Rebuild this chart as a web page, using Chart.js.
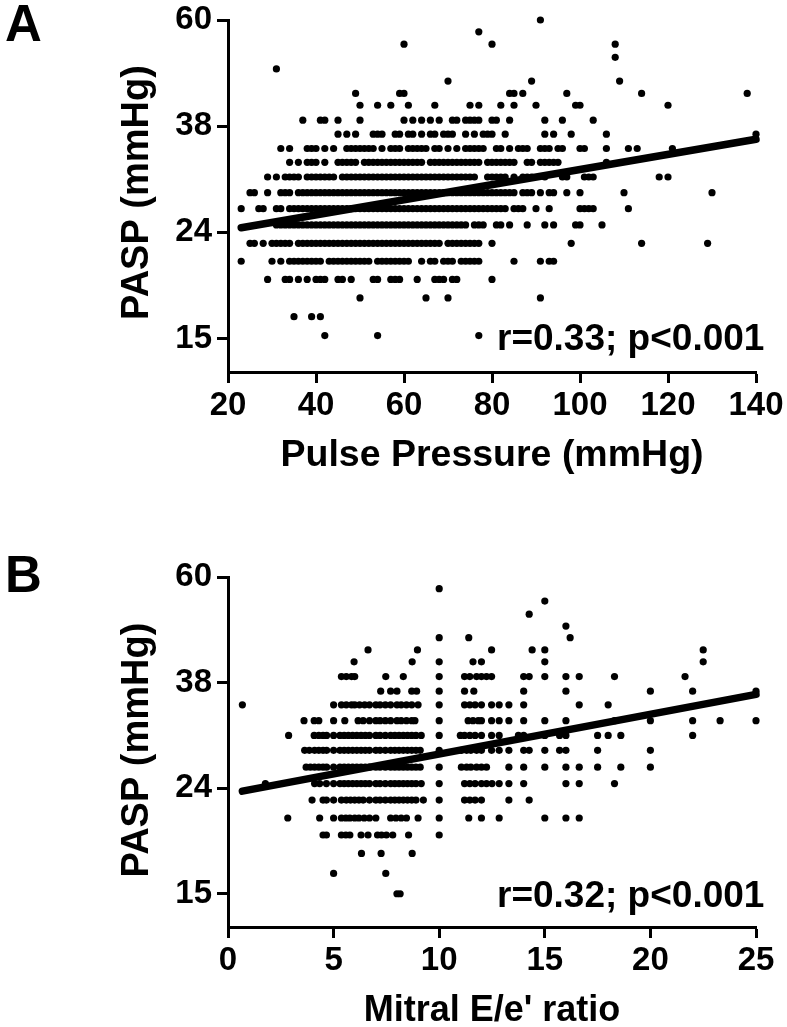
<!DOCTYPE html>
<html><head><meta charset="utf-8">
<script src="https://cdn.jsdelivr.net/npm/chart.js@4"></script>
<style>html,body{margin:0;padding:0;background:#fff}canvas{position:absolute;left:0}</style>
</head><body>
<canvas id="a" width="787" height="500" style="top:0"></canvas>
<canvas id="b" width="787" height="527" style="top:500px"></canvas>
<script>
const yTickValues=[15,23.81,37.8,60];
const paspLevelsA=[60,57,54,51,48.5,46,43.6,41.4,38.8,36.5,34.3,32.3,30.3,28.3,26.4,24.6,22.7,21,19.4,17.9,16.5,15.2];
const pulseRows=[
[91],
[77],
[60,80,108],
[108],
[31],
[70,89,109],
[49,59,60,84,85,87,97,114,138],
[50,54,57,61,67,75,77,82,85,90,99,100,120],
[37,41,42,45,50,60,62,64,66,68,71,72,74,75,76,77,80,81,84,92,96,103],
[45,47,49,53,54,55,58,59,61,62,64,66,67,69,70,71,74,76,78,79,80,83,92,94,98,106,140],
[32,34,38,39,40,42,44,47,48,49,50,51,52,53,55,57,58,59,61,62,63,64,65,67,68,70,72,74,75,76,77,78,81,82,84,86,87,88,91,92,93,95,96,100,101,106,111,113,121],
[34,36,38,39,40,42,45,46,47,48,49,51,52,53,54,55,56,57,58,59,60,61,62,63,64,66,67,68,69,70,71,72,73,74,75,76,77,79,80,81,82,83,84,85,88,89,91,92,93,94,95,106],
[29,31,33,34,35,36,38,39,40,41,42,43,44,46,47,48,49,50,51,52,53,54,55,56,57,58,59,60,61,62,63,64,65,66,67,68,69,70,71,72,73,74,75,76,79,80,81,82,83,85,87,88,89,92,96,97,101,102,103,118,120],
[25,26,29,32,33,34,36,37,38,39,40,41,42,43,44,45,46,47,48,49,50,51,52,53,54,55,56,57,58,59,60,61,62,63,64,65,66,67,68,69,70,71,72,73,74,75,76,77,78,79,80,81,82,83,84,85,87,88,89,91,93,94,97,100,110,130],
[23,27,28,31,32,34,35,36,37,38,39,40,41,42,43,44,45,46,47,48,49,50,51,52,53,54,55,56,57,58,59,60,61,62,63,64,65,66,67,68,69,70,71,72,73,74,75,76,77,78,79,80,81,82,83,85,86,87,90,93,100,101,102,103,111],
[31,32,33,34,35,36,37,38,39,40,41,42,43,44,45,46,47,48,49,50,51,52,53,54,55,56,57,58,59,60,61,62,63,64,65,66,67,68,69,70,71,72,73,74,76,77,78,81,82,84,88,92,94,99,100,105],
[25,26,28,30,31,32,33,34,36,37,38,39,40,41,42,43,44,45,46,47,48,49,50,51,52,53,54,55,56,57,58,59,60,61,62,63,64,65,66,67,68,70,71,72,73,74,75,76,77,80,98,114,129],
[23,30,32,34,35,36,37,38,39,40,41,43,44,45,46,47,48,49,50,51,52,54,55,56,57,58,59,60,61,64,66,67,69,70,71,73,74,75,76,77,85,91,93,94],
[29,33,34,36,38,40,41,42,45,46,48,53,54,57,58,59,63,67,68,69,71,72,80],
[50,65,70,91],
[35,39,41],
[42,54,77]
];
const fitLineAx=[23,140];
const fitLineAy=[24.3,35.7];

const paspLevelsB=[57,54,51,48.4,46,43.6,41.4,38.8,36.4,34.3,32,30,28.1,26.1,24.3,22.6,20.9,19.4,17.9,16.4,15];
const ratioRows=[
[10],
[15],
[14.26],
[16],
[10,11.4,16.2],
[6.63,8.97,12.48,14.4,15,22.5],
[5.97,8.72,10,11.6,12,15,22.5],
[5.37,5.6,5.85,6,7.47,8.3,10,11.2,11.45,11.77,12,12.24,12.48,14,14.26,15,16,16.63,18.3,21.64],
[7.23,7.7,8,8.7,8.93,10,11.2,11.64,14,16,20,22,25],
[0.68,5,5.37,5.6,5.85,6,6.23,6.47,6.7,7,7.2,7.45,7.7,8,8.2,8.45,8.7,9,10,11.2,11.45,11.7,12,12.48,12.84,13.3,14,16.63,18],
[3.6,4.08,4.3,5,5.53,6.16,6.4,6.7,7,7.2,7.45,7.7,8,8.2,8.45,8.7,8.85,10,11.37,11.6,11.85,12,12.48,12.84,13.3,14,15,16,18.3,20,22,23.3,25],
[2.87,4.08,4.3,4.5,4.67,5,5.3,5.5,5.7,5.9,6.1,6.3,6.5,6.7,7,7.2,7.45,7.7,7.9,8.1,8.3,8.5,8.7,8.9,9.15,10,11,11.2,11.45,11.7,12,12.48,12.84,13.75,14,15,15.7,16,17.5,18,18.6,22],
[3.63,3.85,4.1,4.3,4.5,4.67,5,5.3,5.5,5.7,5.9,6.1,6.3,6.5,6.7,7,7.2,7.45,7.7,7.9,8.1,8.3,8.5,8.7,8.9,9.1,10,11.05,11.3,11.5,11.77,12,12.48,12.84,13.3,14,14.26,15,15.7,16,17.5,20],
[3.7,3.9,4.1,4.3,4.5,4.67,5,5.3,5.5,5.7,5.9,6.1,6.3,6.5,6.7,7,7.2,7.45,7.7,7.9,8.1,8.3,8.5,8.7,8.9,9.1,10,11.05,11.3,11.5,11.77,12,12.24,13.3,14,15,16,16.63,17.5,18.6,20],
[1.77,4.1,4.34,4.66,5,5.3,5.5,5.7,5.9,6.1,6.3,6.5,6.7,7,7.2,7.45,7.7,7.9,8.1,8.3,8.5,8.7,8.9,9.15,10,11.2,11.45,11.7,12,12.24,12.5,12.84,13.3,14,16,16.63,18.3],
[3.98,4.5,4.66,5,5.37,5.6,5.8,6,6.2,6.4,6.7,7,7.2,7.45,7.7,7.9,8.1,8.3,8.5,8.7,8.9,9.25,10,11.2,11.45,11.7,12,13.3,14.26],
[2.83,4.34,5,5.37,5.58,5.77,6,6.2,6.45,6.7,7,7.7,7.95,8.2,8.45,9,10,11.4,12,12.84,15,16,16.63],
[4.5,4.66,5.37,5.58,5.77,6.3,6.63,7.08,7.27,7.5,7.8,8.55,10],
[6.32,7.25,8.72],
[5,7.47],
[8,8.15]
];
const fitLineBx=[0.68,25];
const fitLineBy=[23.5,35.9];

const F='"Liberation Sans", Arial, sans-serif';
const pts=(rows,levels)=>rows.flatMap((r,i)=>r.map(x=>({x,y:levels[i]})));
const linePts=(xs,ys)=>xs.map((x,i)=>({x,y:ys[i]}));

function make(id,cfg){
  new Chart(document.getElementById(id),{
    type:'scatter',
    data:{datasets:[
      {data:linePts(cfg.lx,cfg.ly),showLine:true,borderColor:'#000',borderWidth:7.5,borderCapStyle:'round',pointRadius:0,order:0,clip:false},
      {data:pts(cfg.rows,cfg.levels),backgroundColor:'#000',borderWidth:0,pointRadius:3.6,order:1,clip:false}
    ]},
    options:{
      responsive:false,animation:false,
      layout:{padding:{left:0,right:31,top:cfg.top,bottom:0}},
      plugins:{legend:{display:false},tooltip:{enabled:false}},
      scales:{
        x:{type:'linear',min:cfg.xmin,max:cfg.xmax,
          afterFit(s){s.height=cfg.xh;},
          grid:{drawOnChartArea:false,drawTicks:true,tickLength:11,tickWidth:3,tickColor:'#000'},
          border:{display:true,width:3,color:'#000'},
          ticks:{stepSize:cfg.step,color:'#000',autoSkip:false,maxRotation:0,padding:3,font:{family:F,weight:'bold',size:33}},
          title:{display:true,text:cfg.xtitle,color:'#000',font:{family:F,weight:'bold',size:cfg.xts},padding:{top:0,bottom:cfg.xtp}}
        },
        y:{type:'logarithmic',min:12.97,max:60,
          afterBuildTicks(s){s.ticks=yTickValues.map(v=>({value:v}));},
          afterFit(s){s.width=228;},
          grid:{drawOnChartArea:false,drawTicks:true,tickLength:11,tickWidth:3,tickColor:'#000'},
          border:{display:true,width:3,color:'#000'},
          ticks:{color:'#000',autoSkip:false,padding:5,callback:v=>String(Math.round(v)),font:{family:F,weight:'bold',size:33,lineHeight:0.9}}
        }
      }
    },
    plugins:[{id:'txt',afterDraw(c){
      const x=c.ctx;x.save();x.fillStyle='#000';x.textAlign='left';x.textBaseline='alphabetic';
      x.font='bold 37px '+F;x.fillText(cfg.note,497,cfg.noteY);
      x.font='bold 51px '+F;x.fillText(cfg.letter,5,cfg.letterY);
      x.translate(138,cfg.ytitleY);x.rotate(-Math.PI/2);x.textAlign='center';x.textBaseline='middle';
      x.font='bold 38px '+F;x.fillText('PASP (mmHg)',0,0);
      x.restore();
    }}]
  });
}
make('a',{top:20,xh:128,xmin:20,xmax:140,step:20,rows:pulseRows,levels:paspLevelsA,lx:fitLineAx,ly:fitLineAy,
  xtitle:'Pulse Pressure (mmHg)',xts:37.5,xtp:22,note:'r=0.33; p<0.001',noteY:350,letter:'A',letterY:41,ytitleY:192.5});
make('b',{top:77,xh:100,xmin:0,xmax:25,step:5,rows:ratioRows,levels:paspLevelsB,lx:fitLineBx,ly:fitLineBy,
  xtitle:"Mitral E/e' ratio",xts:36,xtp:-6,note:'r=0.32; p<0.001',noteY:407,letter:'B',letterY:92,ytitleY:250});
</script>
</body></html>
